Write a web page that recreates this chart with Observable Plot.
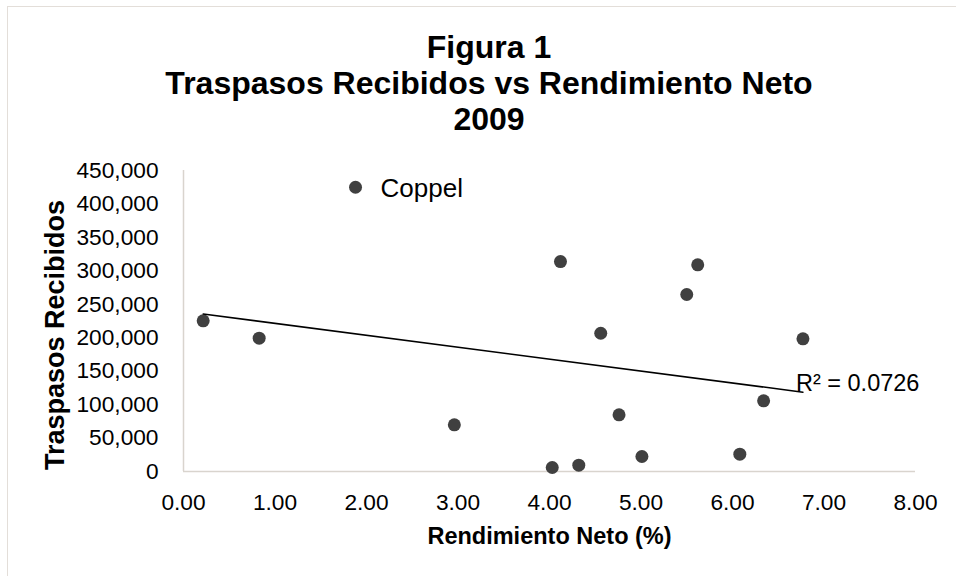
<!DOCTYPE html>
<html><head><meta charset="utf-8">
<script src="https://cdn.jsdelivr.net/npm/d3@7"></script>
<script src="https://cdn.jsdelivr.net/npm/@observablehq/plot@0.6"></script>
<style>
html,body{margin:0;padding:0;background:#fff;overflow:hidden;width:956px;height:576px;}
#frame{position:absolute;left:7px;top:6px;width:1000px;height:1000px;border:1.5px solid #e3ded9;box-sizing:border-box;}
#chart{position:absolute;left:0;top:0;width:956px;height:576px;font-family:"Liberation Sans",Arial,sans-serif;}
#title{height:140px;box-sizing:border-box;padding-top:29px;padding-left:22px;text-align:center;font-weight:bold;font-size:32px;line-height:36px;color:#000;}
#chart svg{display:block;}
</style></head><body>
<div id="frame"></div>
<div id="chart"><div id="title">Figura 1<br>Traspasos Recibidos vs Rendimiento Neto<br>2009</div></div>
<script>
// Rendimiento Neto (%) — x values
const rendimiento = [0.215, 0.827, 2.96, 4.03, 4.12, 4.32, 4.56, 4.76, 5.01, 5.50, 5.62, 6.08, 6.34, 6.77, 1.88];
// Traspasos Recibidos — y values
const traspasos = [225300, 199300, 69800, 6000, 313900, 9400, 206700, 84700, 22400, 264600, 309000, 25900, 105700, 198400, 425000];
// Data labels (only one point is labelled)
const etiquetas = ["", "", "", "", "", "", "", "", "", "", "", "", "", "", "Coppel"];
const xTicks = [0, 1, 2, 3, 4, 5, 6, 7, 8];
const yTicks = [0, 50000, 100000, 150000, 200000, 250000, 300000, 350000, 400000, 450000];
const r2Label = "R² = 0.0726";
const xTitle = "Rendimiento Neto (%)";
const yTitle = "Traspasos Recibidos";

const data = rendimiento.map((x, i) => ({x, y: traspasos[i], name: etiquetas[i]}));
const mx = d3.mean(rendimiento), my = d3.mean(traspasos);
const sxy = d3.sum(data, d => (d.x - mx) * (d.y - my));
const sxx = d3.sum(data, d => (d.x - mx) ** 2);
const slope = sxy / sxx, intercept = my - slope * mx;
const xMax = d3.max(rendimiento);
const axisColor = "#d9d4ce";

const svg = Plot.plot({
  width: 956, height: 436,
  marginTop: 30, marginBottom: 105, marginLeft: 183, marginRight: 41,
  style: {fontFamily: "'Liberation Sans', Arial, sans-serif", fontSize: "22.7px", color: "#000", background: "transparent", overflow: "visible"},
  x: {domain: [0, 8]},
  y: {domain: [0, 450000]},
  marks: [
    Plot.axisX(xTicks, {tickSize: 0, tickPadding: 22, tickFormat: d3.format(".2f"), label: null, fill: "#000"}),
    Plot.axisY(yTicks, {tickSize: 0, tickPadding: 25, tickFormat: d3.format(","), label: null, fill: "#000"}),
    Plot.ruleX([0], {stroke: axisColor, strokeWidth: 1.5}),
    Plot.ruleY([0], {stroke: axisColor, strokeWidth: 1.5}),
    Plot.dot(data, {x: "x", y: "y", r: 6.5, fill: "#404040", stroke: null}),
    Plot.linearRegressionY(data, {x: "x", y: "y", ci: 0, stroke: "#000", strokeWidth: 1.5}),
    Plot.text(data.filter(d => d.name), {x: "x", y: "y", text: "name", textAnchor: "start", lineAnchor: "middle", dx: 25, dy: 1, fontSize: 26, fill: "#000"}),
    Plot.text([{x: xMax, y: intercept + slope * xMax}], {x: "x", y: "y", text: () => r2Label, textAnchor: "start", lineAnchor: "middle", dx: -7, dy: -9, fontSize: 23.5, fill: "#000"}),
    Plot.text([xTitle], {frameAnchor: "bottom", textAnchor: "middle", lineAnchor: "middle", dy: 65, fontWeight: "bold", fontSize: 23.5, fill: "#000"}),
    Plot.text([yTitle], {frameAnchor: "left", textAnchor: "middle", lineAnchor: "middle", rotate: -90, dx: -128, dy: 14, fontWeight: "bold", fontSize: 27, fill: "#000"})
  ]
});
document.getElementById("chart").appendChild(svg);
</script>
</body></html>
